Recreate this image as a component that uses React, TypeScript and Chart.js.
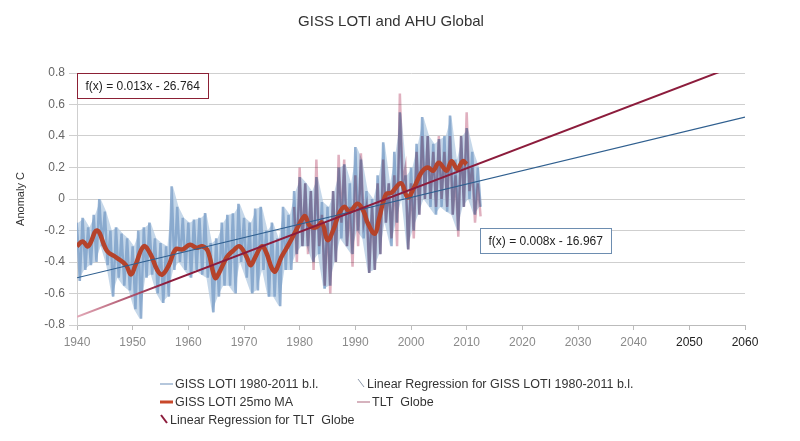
import React, { useEffect, useRef } from "react";
import { Chart, registerables } from "chart.js";

// ---------- text ----------
const TITLE = "GISS LOTI and AHU Global";
const Y_TITLE = "Anomaly C";
const SERIES_NAMES = [
  "GISS LOTI 1980-2011 b.l.",
  "Linear Regression for GISS LOTI 1980-2011 b.l.",
  "GISS LOTI 25mo MA",
  "TLT  Globe",
  "Linear Regression for TLT  Globe",
];
const TLT_REG_LABEL = "f(x) = 0.013x - 26.764";
const GISS_REG_LABEL = "f(x) = 0.008x - 16.967";

// ---------- axes ----------
const X_MIN = 1940;
const X_MAX = 2060;
const X_STEP = 10;
const Y_MIN = -0.8;
const Y_MAX = 0.8;
const Y_STEP = 0.2;

// ---------- GISS LOTI (yearly upper / lower envelope of monthly values) ----------
const gissStartYear = 1940;
const gissHigh = [
  -0.15, -0.12, -0.18, -0.1, 0.0, -0.08, -0.2, -0.18, -0.22, -0.25,
  -0.3, -0.2, -0.18, -0.15, -0.25, -0.28, -0.3, 0.08, -0.05, -0.12,
  -0.15, -0.13, -0.12, -0.09, -0.28, -0.25, -0.15, -0.1, -0.09, -0.03,
  -0.12, -0.15, -0.06, -0.05, -0.2, -0.15, -0.25, -0.05, -0.1, 0.05,
  0.14, 0.1, 0.05, 0.14, -0.02, -0.05, 0.05, 0.2, 0.22, 0.1,
  0.33, 0.25, 0.05, 0.0, 0.15, 0.36, 0.1, 0.3, 0.55, 0.15,
  0.2, 0.35, 0.52, 0.4, 0.35, 0.38, 0.4, 0.53, 0.25, 0.4,
  0.45, 0.3, 0.2,
];
const gissLow = [
  -0.52, -0.45, -0.42, -0.4, -0.3, -0.42, -0.62, -0.5, -0.55, -0.58,
  -0.7, -0.76, -0.5, -0.48, -0.6, -0.66, -0.62, -0.45, -0.4, -0.45,
  -0.5, -0.45, -0.48, -0.5, -0.72, -0.62, -0.55, -0.55, -0.6, -0.4,
  -0.5, -0.6, -0.58, -0.45, -0.62, -0.62, -0.68, -0.45, -0.45, -0.35,
  -0.3, -0.3, -0.4, -0.35, -0.57, -0.55, -0.4, -0.25, -0.3, -0.35,
  -0.2, -0.25, -0.47, -0.45, -0.35, -0.15, -0.3, -0.15, 0.0, -0.32,
  -0.2, -0.1, 0.0, -0.05, -0.1, -0.05, -0.08, -0.1, -0.2, -0.05,
  0.0, -0.1, -0.05,
];

// ---------- TLT Globe (yearly upper / lower envelope) ----------
const tltStartYear = 1979;
const tltHigh = [
  -0.05, 0.2, 0.1, 0.05, 0.25, -0.1, -0.15, 0.05, 0.28, 0.25,
  -0.05, 0.15, 0.29, -0.05, -0.05, 0.1, 0.25, 0.1, 0.15, 0.67,
  0.2, 0.1, 0.3, 0.4, 0.4, 0.3, 0.4, 0.3, 0.4, 0.15,
  0.4, 0.55, 0.2, 0.1,
];
const tltLow = [
  -0.4, -0.3, -0.35, -0.45, -0.3, -0.55, -0.6, -0.4, -0.15, -0.3,
  -0.43, -0.3, -0.15, -0.47, -0.45, -0.35, -0.15, -0.25, -0.3, 0.1,
  -0.32, -0.25, -0.1, 0.0, 0.0, -0.05, 0.0, -0.05, -0.1, -0.24,
  -0.05, 0.05, -0.15, -0.11,
];

// ---------- GISS LOTI 25-month moving average ----------
const maYears = [
  1940, 1941, 1942, 1943.6, 1945.4, 1947, 1948.8, 1949.7, 1950.5, 1952,
  1953.2, 1954.4, 1955.3, 1956.5, 1957.7, 1959, 1960.3, 1961.5, 1962.5, 1963.5,
  1964.8, 1965.5, 1966.9, 1968, 1969.2, 1970.5, 1971.2, 1972, 1973.2, 1974,
  1975, 1975.6, 1976.7, 1978, 1979.5, 1980.4, 1981, 1981.8, 1983, 1984,
  1985, 1986, 1987, 1988, 1989, 1990.4, 1991.5, 1992.2, 1993.5, 1994.3,
  1995.5, 1996.5, 1998.2, 1999.4, 2000.5, 2001.9, 2003, 2004, 2005, 2006.4,
  2007.3, 2008.3, 2009.3, 2010,
];
const maValues = [
  -0.3, -0.27, -0.3, -0.2, -0.33, -0.37, -0.42, -0.48, -0.42, -0.3,
  -0.35, -0.45, -0.48, -0.42, -0.32, -0.32, -0.29, -0.31, -0.3, -0.33,
  -0.5, -0.47, -0.37, -0.33, -0.3, -0.37, -0.42, -0.37, -0.3, -0.34,
  -0.44, -0.46, -0.37, -0.29, -0.19, -0.13, -0.11, -0.17, -0.18, -0.15,
  -0.26, -0.2, -0.1, -0.05, -0.08, -0.03, -0.08, -0.15, -0.22, -0.12,
  0.03, 0.04, 0.1, 0.01, 0.07, 0.17, 0.2, 0.18, 0.23, 0.18,
  0.24, 0.19, 0.24, 0.22,
];

// ---------- regression lines (as drawn) ----------
const regYears = [1940, 2060];
const gissRegSlope = 0.0085;
const gissRegIntercept = -16.99;
const tltRegSlope = 0.01348;
const tltRegIntercept = -26.9;

// ---------- colours ----------
const C_GISS = "rgba(128,162,202,0.85)";
const C_GISS_FILL = "rgba(178,201,226,0.75)";
const C_TLT = "rgba(222,172,188,0.95)";
const C_MA = "#b5432b";
const C_GISS_REG = "#2f5f8f";
const C_TLT_REG = "#8c1c3c";
const C_TLT_REG_FADE = "#e3aab8";
const FONT = '"Liberation Sans", Arial, sans-serif';

// dataset index drawn with multiply blending (TLT)
const MULTIPLY_INDICES = [3];

function zigzagPoints(start: number, hi: number[], lo: number[]) {
  const pts: { x: number; y: number }[] = [];
  hi.forEach((h, i) => {
    pts.push({ x: start + i, y: h });
    pts.push({ x: start + i + 0.5, y: lo[i] });
  });
  return pts;
}

function bandPoints(start: number, vals: number[]) {
  return vals.map((v, i) => ({ x: start + i + 0.25, y: v }));
}

function regPoints(slope: number, intercept: number) {
  return regYears.map((x) => ({ x, y: slope * x + intercept }));
}

const blendPlugin = {
  id: "blendTLT",
  beforeDatasetDraw(chart: any, args: any) {
    if (MULTIPLY_INDICES.includes(args.index)) {
      chart.ctx.save();
      chart.ctx.globalCompositeOperation = "multiply";
    }
  },
  afterDatasetDraw(chart: any, args: any) {
    if (MULTIPLY_INDICES.includes(args.index)) chart.ctx.restore();
  },
};

Chart.register(blendPlugin as any);
Chart.register(...registerables);

const overlayPlugin = {
  id: "overlay",
  afterDraw(chart: any) {
    const ctx = chart.ctx as CanvasRenderingContext2D;
    const xs = chart.scales.x;
    const ys = chart.scales.y;
    ctx.save();

    // title
    ctx.fillStyle = "#333";
    ctx.font = `15px ${FONT}`;
    ctx.textAlign = "center";
    ctx.textBaseline = "middle";
    ctx.fillText(TITLE, 391, 22);

    // regression equation boxes
    const boxes = [
      { text: TLT_REG_LABEL, year: 1940, value: 0.8, color: "#8c2035" },
      { text: GISS_REG_LABEL, year: 2012.4, value: -0.185, color: "#6d8db0" },
    ];
    ctx.font = `12px ${FONT}`;
    ctx.textAlign = "left";
    boxes.forEach((b) => {
      const x = Math.round(xs.getPixelForValue(b.year)) + 0.5;
      const y = Math.round(ys.getPixelForValue(b.value)) + 0.5;
      const w = Math.round(ctx.measureText(b.text).width) + 17;
      const h = 25;
      ctx.fillStyle = "#fff";
      ctx.fillRect(x, y, w, h);
      ctx.strokeStyle = b.color;
      ctx.lineWidth = 1;
      ctx.strokeRect(x, y, w, h);
      ctx.fillStyle = "#222";
      ctx.fillText(b.text, x + 8, y + h / 2 + 1);
    });

    // legend (two columns, row-major)
    const colX = [160, 357];
    const rowY = [384, 402, 420];
    const symbols = [
      { kind: "line", color: "#9db4d0", width: 1.5 },
      { kind: "diag", color: "#8a96a8", width: 1 },
      { kind: "line", color: "#c8482a", width: 3 },
      { kind: "line", color: "#c99aa8", width: 1.5 },
      { kind: "diag", color: C_TLT_REG, width: 2 },
    ];
    ctx.font = `12.5px ${FONT}`;
    ctx.textBaseline = "middle";
    SERIES_NAMES.forEach((name, i) => {
      const sx = colX[i % 2];
      const sy = rowY[Math.floor(i / 2)];
      const s = symbols[i];
      ctx.strokeStyle = s.color;
      ctx.lineWidth = s.width;
      ctx.beginPath();
      if (s.kind === "line") {
        ctx.moveTo(sx, sy);
        ctx.lineTo(sx + 13, sy);
      } else {
        ctx.moveTo(sx + 1, sy - 5);
        ctx.lineTo(sx + 7, sy + 3);
      }
      ctx.stroke();
      ctx.fillStyle = "#333";
      ctx.fillText(name, sx + (s.kind === "line" ? 15 : 10), sy + 1);
    });

    ctx.restore();
  },
};

export default function App() {
  const canvasRef = useRef<HTMLCanvasElement | null>(null);

  useEffect(() => {
    if (!canvasRef.current) return;
    const hidden = { borderWidth: 0, pointRadius: 0, borderColor: "rgba(0,0,0,0)" };
    const chart = new Chart(canvasRef.current, {
      type: "line",
      data: {
        datasets: [
          {
            label: SERIES_NAMES[4],
            data: regPoints(tltRegSlope, tltRegIntercept),
            borderColor: (c: any) => {
              const ch = c.chart;
              if (!ch.chartArea || !ch.scales || !ch.scales.x) return C_TLT_REG;
              const x0 = ch.scales.x.getPixelForValue(1940);
              const x1 = ch.scales.x.getPixelForValue(1956);
              const g = ch.ctx.createLinearGradient(x0, 0, x1, 0);
              g.addColorStop(0, C_TLT_REG_FADE);
              g.addColorStop(1, C_TLT_REG);
              return g;
            },
            borderWidth: 2,
            pointRadius: 0,
            fill: false,
            order: 0,
          },
          {
            label: SERIES_NAMES[1],
            data: regPoints(gissRegSlope, gissRegIntercept),
            borderColor: C_GISS_REG,
            borderWidth: 1.2,
            pointRadius: 0,
            fill: false,
            order: 1,
          },
          {
            label: SERIES_NAMES[2],
            data: maYears.map((x, i) => ({ x, y: maValues[i] })),
            borderColor: C_MA,
            borderWidth: 4.5,
            pointRadius: 0,
            tension: 0.4,
            fill: false,
            order: 2,
          },
          {
            label: SERIES_NAMES[3],
            data: zigzagPoints(tltStartYear, tltHigh, tltLow),
            borderColor: C_TLT,
            borderWidth: 2.5,
            pointRadius: 0,
            fill: false,
            order: 3,
          },
          {
            label: SERIES_NAMES[0],
            data: zigzagPoints(gissStartYear, gissHigh, gissLow),
            borderColor: C_GISS,
            borderWidth: 2.5,
            pointRadius: 0,
            fill: false,
            order: 5,
          },
          {
            label: "giss-high",
            data: bandPoints(gissStartYear, gissHigh),
            ...hidden,
            fill: false,
            order: 6,
          },
          {
            label: "giss-low",
            data: bandPoints(gissStartYear, gissLow),
            ...hidden,
            fill: "-1",
            backgroundColor: C_GISS_FILL,
            order: 6,
          },
        ] as any,
      },
      options: {
        animation: false,
        responsive: true,
        maintainAspectRatio: false,
        layout: { padding: { top: 73, right: 55, bottom: 0, left: 0 } },
        plugins: {
          legend: { display: false },
          title: { display: false },
          tooltip: { enabled: false },
        },
        scales: {
          x: {
            type: "linear",
            min: X_MIN,
            max: X_MAX,
            afterFit: (s: any) => {
              s.height = 116;
            },
            ticks: {
              stepSize: X_STEP,
              padding: 5,
              font: { family: FONT, size: 12 },
              color: (c: any) => (c.tick && c.tick.value >= 2050 ? "#222" : "#8a8a8a"),
              callback: (v: any) => String(v),
              maxRotation: 0,
            },
            grid: {
              drawOnChartArea: false,
              drawTicks: true,
              tickLength: 5,
              color: "#bbbbbb",
            },
            border: { color: "#bbbbbb" },
          },
          y: {
            min: Y_MIN,
            max: Y_MAX,
            afterFit: (s: any) => {
              s.width = 77;
            },
            title: {
              display: true,
              text: Y_TITLE,
              font: { family: FONT, size: 11 },
              color: "#333",
              padding: { top: 14, bottom: 0 },
            },
            ticks: {
              stepSize: Y_STEP,
              padding: 4,
              font: { family: FONT, size: 12 },
              color: "#666",
              callback: (v: any) => {
                const r = Math.round(Number(v) * 10) / 10;
                return r === 0 ? "0" : String(r);
              },
            },
            grid: {
              color: "#cfcfcf",
              tickLength: 8,
            },
            border: { color: "#cfcfcf" },
          },
        },
      } as any,
      plugins: [overlayPlugin],
    });
    return () => chart.destroy();
  }, []);

  return (
    <div style={{ position: "absolute", left: 0, top: 0, width: 800, height: 441, background: "#fff" }}>
      <canvas ref={canvasRef} />
    </div>
  );
}
